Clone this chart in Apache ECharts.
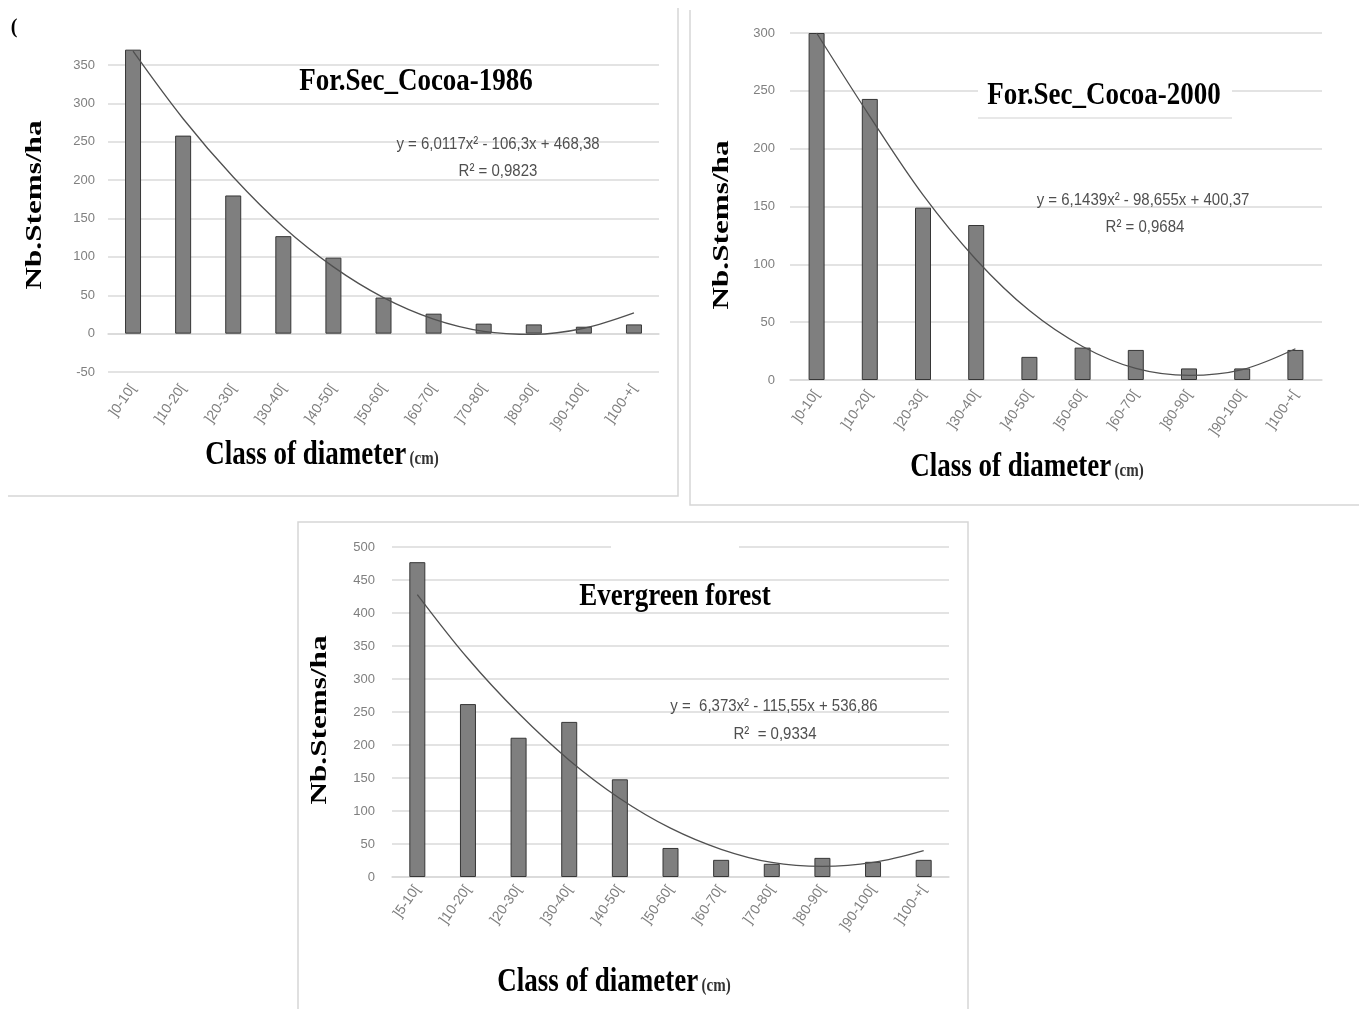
<!DOCTYPE html>
<html>
<head>
<meta charset="utf-8">
<script src="https://cdn.jsdelivr.net/npm/echarts@6/dist/echarts.min.js"></script>
<style>html,body{margin:0;padding:0;background:#fff}#c{width:1359px;height:1009px}</style>
</head>
<body>
<div id="c"></div>
<script>
// ---- data ----
const cats1986 = [']0-10[', ']10-20[', ']20-30[', ']30-40[', ']40-50[', ']50-60[', ']60-70[', ']70-80[', ']80-90[', ']90-100[', ']100-+['];
const stems1986 = [370, 258, 180, 127, 99, 47, 26, 13, 12, 9, 12];
const trend1986 = [368, 280, 204, 139, 87, 47, 19, 3, -1, 7, 27];

const cats2000 = [']0-10[', ']10-20[', ']20-30[', ']30-40[', ']40-50[', ']50-60[', ']60-70[', ']80-90[', ']90-100[', ']100-+['];
const stems2000 = [300, 243, 149, 134, 20, 28, 26, 10, 10, 26];
const trend2000 = [300, 228, 160, 104, 60, 29, 10, 4, 9, 27];

const catsEver = [']5-10[', ']10-20[', ']20-30[', ']30-40[', ']40-50[', ']50-60[', ']60-70[', ']70-80[', ']80-90[', ']90-100[', ']100-+['];
const stemsEver = [477, 262, 211, 235, 148, 44, 26, 20, 29, 23, 26];
const trendEver = [428, 331, 248, 177, 119, 74, 42, 22, 16, 22, 40];

const yTicks1986 = {min: -50, max: 350, interval: 50};
const yTicks2000 = {min: 0, max: 300, interval: 50};
const yTicksEver = {min: 0, max: 500, interval: 50};

const titles = ['For.Sec_Cocoa-1986', 'For.Sec_Cocoa-2000', 'Evergreen forest'];
const eqs = ['y = 6,0117x\u00b2 - 106,3x + 468,38', 'y = 6,1439x\u00b2 - 98,655x + 400,37', 'y =  6,373x\u00b2 - 115,55x + 536,86'];
const r2s = ['R\u00b2 = 0,9823', 'R\u00b2 = 0,9684', 'R\u00b2  = 0,9334'];
const yName = 'Nb.Stems/ha';
const xName = 'Class of diameter';
const xUnit = '(cm)';

// ---- chart ----
const chart = echarts.init(document.getElementById('c'), null, {renderer: 'canvas'});
const grids = [
  {left: 108, right: 700, top: 65, bottom: 637},
  {left: 790, right: 37, top: 33, bottom: 629},
  {left: 392, right: 410, top: 547, bottom: 132}
];
const labelFont = {fontFamily: '"Liberation Sans", "DejaVu Sans", sans-serif', color: '#7f7f7f'};
function xAxis(i, cats, margin) {
  return {
    type: 'category', gridIndex: i, data: cats,
    axisLine: {onZero: true, lineStyle: {color: '#d9d9d9', width: 1.5}},
    axisTick: {show: false},
    axisLabel: Object.assign({rotate: 55, fontSize: 14, margin: margin, interval: 0}, labelFont)
  };
}
function yAxis(i, t, margin) {
  return Object.assign({
    type: 'value', gridIndex: i,
    axisLine: {show: false}, axisTick: {show: false},
    splitLine: {lineStyle: {color: '#e3e3e3', width: 2}},
    axisLabel: Object.assign({fontSize: 13, margin: margin}, labelFont)
  }, t);
}
const barStyle = {color: '#7f7f7f', borderColor: '#363636', borderWidth: 1};
const lineStyle = {color: '#505050', width: 1.3};
function bar(i, d) {
  return {type: 'bar', xAxisIndex: i, yAxisIndex: i, data: d, barWidth: 16, itemStyle: barStyle, clip: false, z: 2};
}
function trend(i, d) {
  return {type: 'line', xAxisIndex: i, yAxisIndex: i, data: d, smooth: 0.35, symbol: 'none', lineStyle: lineStyle, clip: false, z: 3};
}

const serif = '"Liberation Serif", "DejaVu Serif", serif';
const sans = '"Liberation Sans", "DejaVu Sans", sans-serif';
function tText(x, y, text, size, opts) {
  return Object.assign({
    type: 'text', x: x, y: y, z: 20,
    style: {text: text, font: 'bold ' + size + 'px ' + serif, fill: '#000', align: 'center', verticalAlign: 'middle', textAlign: 'center', textVerticalAlign: 'middle'}
  }, opts || {});
}
function eqText(x, y, text) {
  return {
    type: 'text', x: x, y: y, z: 20, scaleY: 1.15,
    style: {text: text, font: '15px ' + sans, fill: '#4f4f4f', align: 'center', verticalAlign: 'middle', textAlign: 'center', textVerticalAlign: 'middle'}
  };
}
function xNameText(x, y) {
  return {
    type: 'text', x: x, y: y, z: 20, scaleY: 1.25,
    style: {
      text: '{a|' + xName + '} {b|' + xUnit + '}',
      align: 'center', verticalAlign: 'middle', textAlign: 'center', textVerticalAlign: 'middle',
      rich: {
        a: {font: 'bold 27px ' + serif, fill: '#000', color: '#000'},
        b: {font: 'bold 15px ' + serif, fill: '#333', color: '#333', padding: [6, 0, 0, 0]}
      }
    }
  };
}
const borderStroke = {stroke: '#d6d6d6', lineWidth: 1.5};
const graphics = [
  // panel frames
  {type: 'polyline', z: 1, shape: {points: [[8, 496], [678, 496], [678, 8]]}, style: borderStroke},
  {type: 'polyline', z: 1, shape: {points: [[690, 10], [690, 505], [1359, 505]]}, style: borderStroke},
  {type: 'polyline', z: 1, shape: {points: [[298, 1009], [298, 522], [968, 522], [968, 1009]]}, style: borderStroke},
  // white boxes behind titles
  {type: 'rect', z: 10, shape: {x: 978, y: 76, width: 254, height: 42}, style: {fill: '#fff'}},
  {type: 'line', z: 11, shape: {x1: 978, y1: 118, x2: 1232, y2: 118}, style: {stroke: '#e0e0e0', lineWidth: 1.5}},
  {type: 'rect', z: 10, shape: {x: 611, y: 542, width: 128, height: 10}, style: {fill: '#fff'}},
  // cropped label fragment
  tText(14, 28, '(', 20),
  // titles
  tText(416, 82, titles[0], 27, {scaleY: 1.2}),
  tText(1104, 96, titles[1], 27, {scaleY: 1.2}),
  tText(675, 597, titles[2], 27, {scaleY: 1.2}),
  // equations
  eqText(498, 144, eqs[0]), eqText(498, 171, r2s[0]),
  eqText(1143, 200, eqs[1]), eqText(1145, 227, r2s[1]),
  eqText(774, 706, eqs[2]), eqText(775, 734, r2s[2]),
  // y names
  tText(35, 205, yName, 24, {rotation: Math.PI / 2, scaleX: 1.3}),
  tText(722, 225, yName, 24, {rotation: Math.PI / 2, scaleX: 1.3}),
  tText(320, 720, yName, 24, {rotation: Math.PI / 2, scaleX: 1.3}),
  // x names
  xNameText(322, 455), xNameText(1027, 467), xNameText(614, 982)
];

chart.setOption({
  animation: false,
  backgroundColor: '#fff',
  grid: grids,
  xAxis: [xAxis(0, cats1986, 14), xAxis(1, cats2000, 12), xAxis(2, catsEver, 10)],
  yAxis: [yAxis(0, yTicks1986, 13), yAxis(1, yTicks2000, 15), yAxis(2, yTicksEver, 17)],
  series: [
    bar(0, stems1986), trend(0, trend1986),
    bar(1, stems2000), trend(1, trend2000),
    bar(2, stemsEver), trend(2, trendEver)
  ],
  graphic: graphics
});
</script>
</body>
</html>
